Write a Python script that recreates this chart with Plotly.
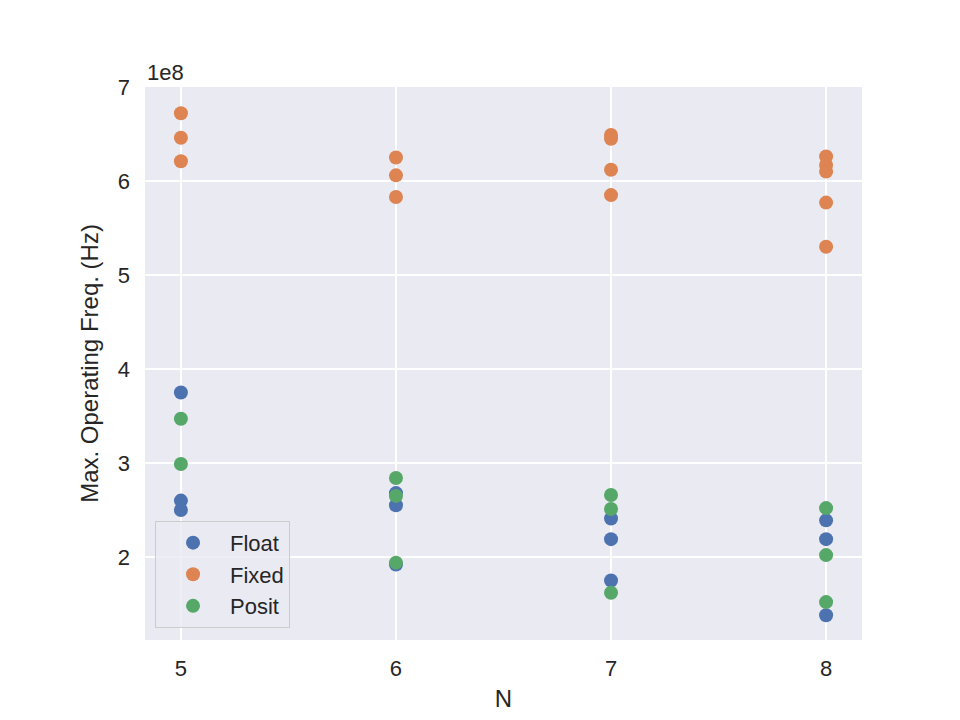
import plotly.graph_objects as go

# Max operating frequency (Hz) per word size N
float_n = [5, 5, 5, 6, 6, 6, 7, 7, 7, 8, 8, 8]
float_hz = [3.75e8, 2.60e8, 2.50e8, 2.68e8, 2.55e8, 1.92e8,
            2.41e8, 2.19e8, 1.75e8, 2.39e8, 2.19e8, 1.38e8]

fixed_n = [5, 5, 5, 6, 6, 6, 7, 7, 7, 7, 8, 8, 8, 8, 8]
fixed_hz = [6.72e8, 6.46e8, 6.21e8, 6.25e8, 6.06e8, 5.83e8,
            6.49e8, 6.45e8, 6.12e8, 5.85e8, 6.26e8, 6.17e8, 6.10e8, 5.77e8, 5.30e8]

posit_n = [5, 5, 6, 6, 6, 7, 7, 7, 8, 8, 8]
posit_hz = [3.47e8, 2.99e8, 2.84e8, 2.65e8, 1.94e8,
            2.66e8, 2.51e8, 1.62e8, 2.52e8, 2.02e8, 1.52e8]

x_ticks = [5, 6, 7, 8]
y_ticks = [2e8, 3e8, 4e8, 5e8, 6e8, 7e8]
y_tick_text = ["2", "3", "4", "5", "6", "7"]

FONT = "Arial, Liberation Sans, sans-serif"
TXT = "#262626"

fig = go.Figure()
series = [("Float", float_n, float_hz, "#4C72B0"),
          ("Fixed", fixed_n, fixed_hz, "#DD8452"),
          ("Posit", posit_n, posit_hz, "#55A868")]
for name, xs, ys, col in series:
    fig.add_trace(go.Scatter(x=xs, y=ys, mode="markers", name=name,
                             legendgroup=name,
                             marker=dict(color=col, size=14, line=dict(width=0))))

fig.update_layout(
    width=960, height=720,
    margin=dict(l=145, r=98, t=87, b=80),
    paper_bgcolor="white", plot_bgcolor="#EAEAF2",
    font=dict(family=FONT, color=TXT, size=20),
    showlegend=True,
    legend=dict(x=0.014, y=0.022, xanchor="left", yanchor="bottom",
                bgcolor="rgba(234,234,242,0.8)", bordercolor="#CCCCCC",
                borderwidth=1, font=dict(size=22, color=TXT),
                tracegroupgap=0, itemwidth=64),
    xaxis=dict(range=[4.833, 8.167], tickvals=x_ticks, showgrid=True,
               gridcolor="white", gridwidth=1.8, zeroline=False,
               showline=False, ticks="", tickfont=dict(size=22),
               ticklabelstandoff=13,
               title=dict(text="N", font=dict(size=24), standoff=10)),
    yaxis=dict(range=[1.117e8, 7.0e8], tickvals=y_ticks, ticktext=y_tick_text,
               showgrid=True, gridcolor="white", gridwidth=1.8, zeroline=False,
               showline=False, ticks="", tickfont=dict(size=22),
               ticklabelstandoff=14,
               title=dict(text="Max. Operating Freq. (Hz)", font=dict(size=24),
                          standoff=12)),
    annotations=[dict(text="1e8", xref="paper", yref="paper", x=0, y=1.0,
                      xanchor="left", yanchor="bottom", showarrow=False,
                      font=dict(size=22, color=TXT), yshift=0)],
)

fig.write_html("out.html")
